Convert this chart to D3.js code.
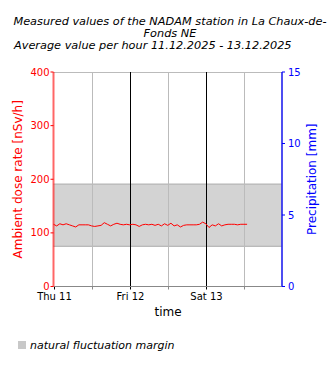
<!DOCTYPE html>
<html><head><meta charset="utf-8">
<script src="https://cdn.jsdelivr.net/npm/d3@7"></script>
<style>body{margin:0;background:#fff}svg{display:block}text{font-family:"DejaVu Sans",sans-serif}</style>
</head><body><svg id="c" width="330" height="370"></svg>
<script>
const titleLines = ["Measured values of the NADAM station in La Chaux-de-", "Fonds NE", "Average value per hour 11.12.2025 - 13.12.2025"];
const startTime = "2025-12-11T00:00:00";
const endTime = "2025-12-14T00:00:00";
const doseValues = [116,113,117,115,117,115,113,111,115,115,115,115,113,112,113,114,119,116,113,116,118,116,115,116,115,116,115,112,115,116,115,116,114,116,113,117,114,118,113,115,111,114,115,115,115,115,116,120,117,110,115,113,117,113,115,116,116,116,115,116,116,116];
const bandLow = 75, bandHigh = 191;
const doseTicks = [0,100,200,300,400];
const precipTicks = [0,5,10,15];
const dayTicks = ["2025-12-11T00:00:00","2025-12-12T00:00:00","2025-12-13T00:00:00"];
const dayLabels = ["Thu 11","Fri 12","Sat 13"];
const halfDayTicks = ["2025-12-11T12:00:00","2025-12-12T12:00:00","2025-12-13T12:00:00"];
const legendLabel = "natural fluctuation margin";

const svg = d3.select("#c");
const L = 53.5, R = 282, T = 72, B = 286.5;
const t0 = new Date(startTime);
const x = d3.scaleTime().domain([t0, new Date(endTime)]).range([L, R]);
const y = d3.scaleLinear().domain([0,400]).range([B, T]);
const y2 = d3.scaleLinear().domain([0,15]).range([B, T]);

// title
const ty = [25, 37, 49];
const tf = 11.3;
svg.append("text").attr("x",170).attr("y",ty[0]).attr("text-anchor","middle").attr("font-size",tf).attr("font-style","italic").text(titleLines[0]);
svg.append("text").attr("x",170).attr("y",ty[1]).attr("text-anchor","middle").attr("font-size",tf).attr("font-style","italic").text(titleLines[1]);
svg.append("text").attr("x",14).attr("y",ty[2]).attr("text-anchor","start").attr("font-size",tf).attr("font-style","italic").text(titleLines[2]);

// band
svg.append("rect").attr("x",L).attr("width",R-L).attr("y",y(bandHigh)).attr("height",y(bandLow)-y(bandHigh)).attr("fill","#d3d3d3");
[bandLow,bandHigh].forEach(v=>svg.append("line").attr("x1",L).attr("x2",R).attr("y1",y(v)).attr("y2",y(v)).attr("stroke","#aaa").attr("stroke-width",1));

// top border
svg.append("line").attr("x1",L).attr("x2",R).attr("y1",T+0.5).attr("y2",T+0.5).attr("stroke","#bbb");

// vertical grid
halfDayTicks.forEach(d=>{const xx=Math.round(x(new Date(d)))+0.5;
  svg.append("line").attr("x1",xx).attr("x2",xx).attr("y1",T).attr("y2",B).attr("stroke","#bbb");
  svg.append("line").attr("x1",xx).attr("x2",xx).attr("y1",B).attr("y2",B+3).attr("stroke","#888");});
dayTicks.forEach((d,i)=>{const xx=Math.round(x(new Date(d)))+0.5;
  if(i>0) svg.append("line").attr("x1",xx).attr("x2",xx).attr("y1",T).attr("y2",B).attr("stroke","#000");
  svg.append("line").attr("x1",xx).attr("x2",xx).attr("y1",B).attr("y2",B+3).attr("stroke","#000");
  svg.append("text").attr("x",xx).attr("y",300).attr("text-anchor","middle").attr("font-size",10).attr("fill","#000").text(dayLabels[i]);});

// bottom axis line
svg.append("line").attr("x1",L).attr("x2",R).attr("y1",B).attr("y2",B).attr("stroke","#888");

// line
const line = d3.line().x((d,i)=>x(new Date(t0.getTime()+i*3600e3))).y(d=>y(d));
svg.append("path").datum(doseValues).attr("d",line).attr("fill","none").attr("stroke","#ff0000").attr("stroke-width",1);

// left axis
svg.append("line").attr("x1",L).attr("x2",L).attr("y1",T).attr("y2",B).attr("stroke","#ff0000").attr("stroke-width",2).attr("stroke-opacity",0.6);
doseTicks.forEach(v=>{
  svg.append("line").attr("x1",L-3).attr("x2",L).attr("y1",y(v)).attr("y2",y(v)).attr("stroke","#ff0000");
  svg.append("text").attr("x",L-4).attr("y",y(v)+3.5).attr("text-anchor","end").attr("font-size",10).attr("fill","#ff0000").text(v);});
svg.append("text").attr("transform",`translate(22,${(T+B)/2})rotate(-90)`).attr("text-anchor","middle").attr("font-size",12).attr("fill","#ff0000").text("Ambient dose rate [nSv/h]");

// right axis
svg.append("line").attr("x1",R).attr("x2",R).attr("y1",T).attr("y2",B).attr("stroke","#2222ee").attr("stroke-width",2).attr("stroke-opacity",0.8);
precipTicks.forEach(v=>{
  svg.append("line").attr("x1",R).attr("x2",R+3).attr("y1",y2(v)).attr("y2",y2(v)).attr("stroke","#0000ff");
  svg.append("text").attr("x",R+6).attr("y",y2(v)+3.5).attr("text-anchor","start").attr("font-size",10).attr("fill","#0000ff").text(v);});
svg.append("text").attr("transform",`translate(316,${(T+B)/2})rotate(-90)`).attr("text-anchor","middle").attr("font-size",12).attr("fill","#0000ff").text("Precipitation [mm]");

// x label
svg.append("text").attr("x",168).attr("y",316).attr("text-anchor","middle").attr("font-size",12).attr("fill","#000").text("time");

// legend
svg.append("rect").attr("x",18).attr("y",341).attr("width",8).attr("height",8).attr("fill","#c8c8c8");
svg.append("text").attr("x",30).attr("y",349).attr("font-size",11).attr("font-style","italic").attr("fill","#000").text(legendLabel);
</script></body></html>
